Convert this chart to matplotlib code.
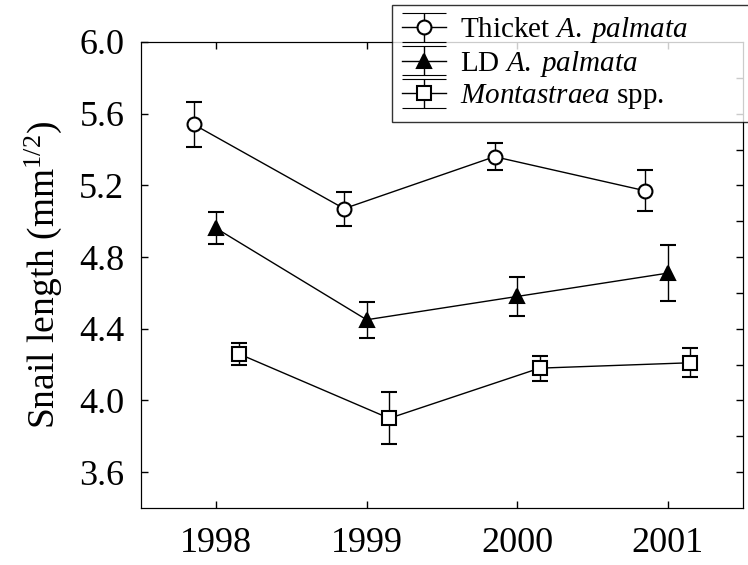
import matplotlib
matplotlib.use("Agg")
import matplotlib.pyplot as plt
from matplotlib.legend_handler import HandlerErrorbar
from matplotlib.lines import Line2D
import numpy as np

plt.rcParams['font.family'] = ['Liberation Serif', 'DejaVu Serif']
plt.rcParams['mathtext.fontset'] = 'custom'
plt.rcParams['mathtext.rm'] = 'Liberation Serif'
plt.rcParams['mathtext.it'] = 'Liberation Serif:italic'

years = [1998, 1999, 2000, 2001]
offsets = [-0.15, 0.0, 0.15]

thicket = [5.54, 5.07, 5.36, 5.17]
thicket_err = [0.125, 0.095, 0.075, 0.115]
ld = [4.96, 4.45, 4.58, 4.71]
ld_err = [0.09, 0.10, 0.11, 0.155]
mont = [4.26, 3.90, 4.18, 4.21]
mont_err = [0.06, 0.145, 0.07, 0.08]

labels = [r'Thicket $\mathit{A.}\;\mathit{palmata}$',
          r'LD $\mathit{A.}\;\mathit{palmata}$',
          r'$\mathit{Montastraea}$ spp.']


# legend handle with caps as wide as the handle
class WideCapHandler(HandlerErrorbar):
    def create_artists(self, legend, orig_handle, xdescent, ydescent,
                       width, height, fontsize, trans):
        arts = super().create_artists(legend, orig_handle, xdescent, ydescent,
                                      width, height, fontsize, trans)
        for a in arts:
            if isinstance(a, Line2D) and a.get_marker() == '_':
                a.set_markersize(width)
                a.set_markeredgewidth(0.8)
        return arts


fig = plt.figure(figsize=(7.48, 5.65), dpi=100)
ax = fig.add_axes([0.1885, 0.101, 0.8045, 0.8247])

series = [(thicket, thicket_err, 'o', 'white'),
          (ld, ld_err, '^', 'black'),
          (mont, mont_err, 's', 'white')]
handles = []
for (vals, errs, mk, fc), off, lab in zip(series, offsets, labels):
    x = np.array(years) + off
    h = ax.errorbar(x, vals, yerr=errs, marker=mk, mfc=fc, mec='black', mew=1.5,
                    ms=10, color='black', lw=1, ecolor='black', elinewidth=1,
                    capsize=6, capthick=1, label=lab)
    handles.append(h)

ax.set_xlim(1997.5, 2001.5)
ax.set_ylim(3.4, 6.0)
ax.set_xticks(years)
ax.set_yticks(np.arange(3.6, 6.01, 0.4))
ax.set_yticklabels(['%.1f' % v for v in np.arange(3.6, 6.01, 0.4)])
ax.tick_params(direction='in', labelsize=26, length=5, width=1,
               top=True, pad=12)
ax.tick_params(axis='x', pad=14)

# right side ticks every 0.2
ax2 = ax.twinx()
ax2.set_ylim(3.4, 6.0)
ax2.set_yticks(np.arange(3.6, 5.81, 0.2))
ax2.tick_params(direction='in', length=5, width=1, labelright=False)

ax.set_ylabel('Snail length (mm$^{1/2}$)', fontsize=27, labelpad=11)

leg = fig.legend(handles, labels, loc='upper left',
                 bbox_to_anchor=(0.524, 0.0, 0.5, 0.991), mode='expand',
                 fontsize=21, frameon=True, fancybox=False, edgecolor='black',
                 handlelength=1.5, handletextpad=0.5, borderpad=0.35,
                 labelspacing=0.12, borderaxespad=0.0,
                 handler_map={h: WideCapHandler(yerr_size=0.5) for h in handles})
leg.get_frame().set_linewidth(1)

fig.savefig('out.png', dpi=100)
